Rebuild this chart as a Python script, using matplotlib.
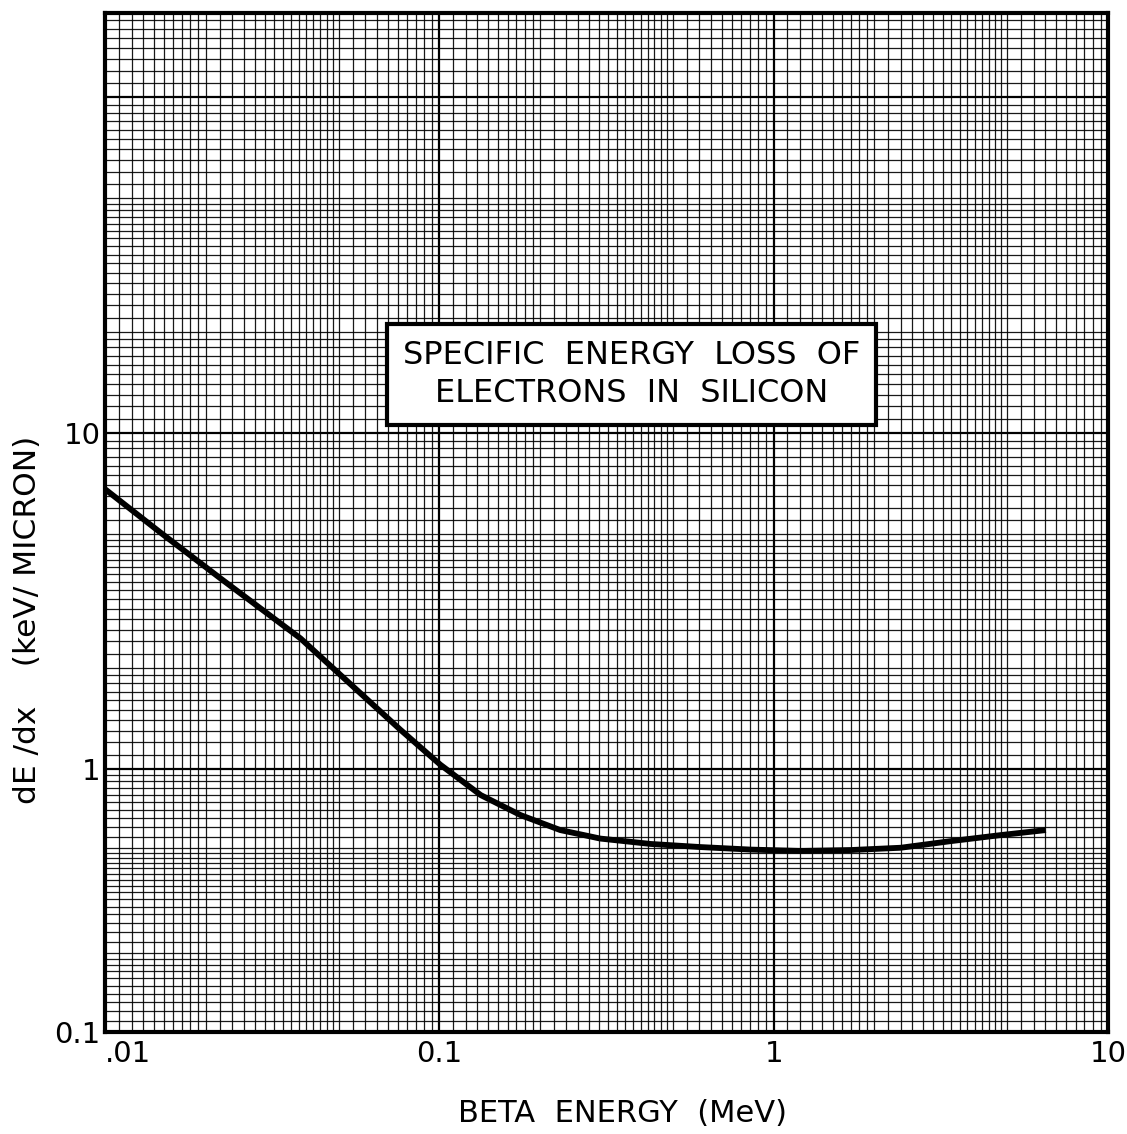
import numpy as np
import matplotlib.pyplot as plt
from matplotlib.ticker import FixedLocator, FixedFormatter, NullFormatter

# curve
energy = [0.010, 0.0146, 0.0221, 0.0384, 0.0542, 0.0764, 0.1007, 0.133, 0.175,
          0.230, 0.303, 0.428, 0.604, 0.853, 1.205, 1.70, 2.40, 3.39, 4.79, 6.52]
dedx = [6.81, 5.07, 3.70, 2.45, 1.79, 1.31, 1.03, 0.796, 0.668,
        0.586, 0.544, 0.519, 0.505, 0.494, 0.488, 0.492, 0.502, 0.532, 0.561, 0.586]

x_ticks = [0.01, 0.1, 1, 10]
x_labels = ['.01', '0.1', '1', '10']
y_ticks = [0.1, 1, 10, 100]
y_labels = ['0.1', '1', '10', '']

title_text = 'SPECIFIC  ENERGY  LOSS  OF\nELECTRONS  IN  SILICON'
xlabel_text = 'BETA  ENERGY  (MeV)'
ylabel_text = 'dE /dx    (keV/ MICRON)'

# the lowest cycle of this paper (0.1 to 1) is printed shorter than the others
decades = np.array([-2, -1, 0, 1, 2, 3])
cycle_pos = np.array([-0.783, 0.0, 0.783, 1.783, 2.783, 3.783])


def fwd(y):
    y = np.clip(np.asarray(y, dtype=float), 1e-6, None)
    return np.interp(np.log10(y), decades, cycle_pos)


def inv(p):
    return 10 ** np.interp(np.asarray(p, dtype=float), cycle_pos, decades)


def paper_lines(lo, hi):
    out = []
    for e in range(lo, hi):
        b = 10.0 ** e
        out += list(b * np.arange(1, 2, 0.1))
        out += list(b * np.arange(2, 5, 0.2))
        out += list(b * np.arange(5, 10, 0.5))
    return out


plt.rcParams['font.family'] = ['DejaVu Sans']

fig = plt.figure(figsize=(11.27, 11.34), dpi=100)
ax = fig.add_axes([0.0932, 0.0899, 0.8899, 0.8986])

ax.set_xscale('log')
ax.set_yscale('function', functions=(fwd, inv))
ax.set_xlim(0.01, 10)
ax.set_ylim(0.1, 178)

ax.xaxis.set_major_locator(FixedLocator(x_ticks))
ax.xaxis.set_major_formatter(FixedFormatter(x_labels))
ax.xaxis.set_minor_locator(FixedLocator(paper_lines(-2, 1)))
ax.xaxis.set_minor_formatter(NullFormatter())
ax.yaxis.set_major_locator(FixedLocator(y_ticks))
ax.yaxis.set_major_formatter(FixedFormatter(y_labels))
ax.yaxis.set_minor_locator(FixedLocator(paper_lines(-1, 3)))
ax.yaxis.set_minor_formatter(NullFormatter())

ax.grid(which='minor', color='black', lw=0.9, alpha=0.9)
ax.grid(which='major', color='black', lw=1.6)
ax.set_axisbelow(True)

ax.tick_params(which='both', length=0)
ax.tick_params(axis='x', labelsize=21, pad=6)
ax.tick_params(axis='y', labelsize=21, pad=3)
ax.get_xticklabels()[0].set_ha('left')

for s in ax.spines.values():
    s.set_linewidth(3.0)

ax.plot(energy, dedx, color='black', lw=4.2, solid_capstyle='butt', zorder=3)

ax.text(0.525, 0.645, title_text, transform=ax.transAxes, ha='center', va='center',
        multialignment='center', fontsize=23, linespacing=1.3, zorder=4,
        bbox=dict(boxstyle='square,pad=0.5', fc='white', ec='black', lw=3))

fig.text(622 / 1127, 1 - 1113 / 1134, xlabel_text, ha='center', va='center', fontsize=22)
fig.text(28 / 1127, 1 - 620 / 1134, ylabel_text, ha='center', va='center',
         rotation=90, fontsize=22.5)

fig.savefig('out.png', dpi=100)
